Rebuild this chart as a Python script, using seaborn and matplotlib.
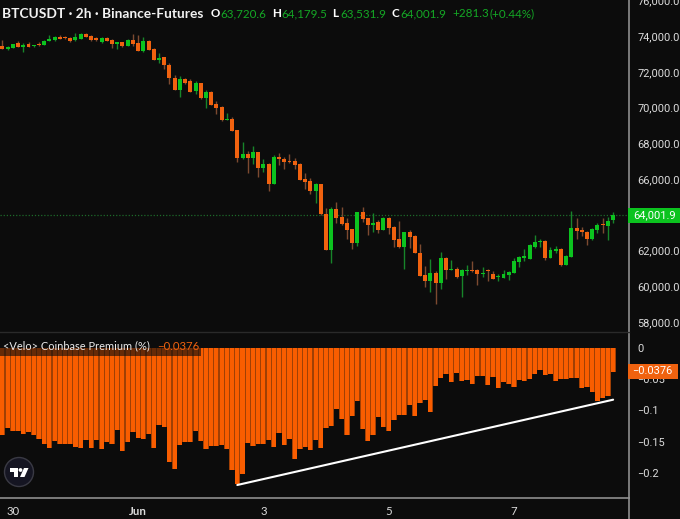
import numpy as np
import pandas as pd
import matplotlib
matplotlib.use("Agg")
import matplotlib.pyplot as plt
from matplotlib.patches import Circle, Rectangle, Polygon
import seaborn as sns

opens = [73440,73250,73330,73590,73380,73570,73420,73550,73480,73740,73800,73960,73940,73910,73760,73850,74110,74000,73870,73680,
         73910,73780,73550,73650,73460,73800,73630,73180,73700,73270,72640,72810,72400,71670,70980,71580,71500,70900,71350,70530,
         70890,70180,70030,69300,69360,68740,67180,67400,67190,67490,66630,66840,65740,67230,67140,66990,67010,66840,65980,65910,
         65330,65720,64060,62030,64320,63890,63540,63180,62400,64150,63800,63430,63580,63170,63820,63310,62620,62200,63040,62810,
         61880,60630,60290,60720,60180,61580,60910,60970,60570,60850,60890,60910,60700,60910,60690,60540,60480,60630,60760,61360,
         61580,61540,62220,62460,62550,61580,61950,62080,61210,61660,63260,63150,63050,62630,63170,63460,63390,63720.6]
closes = [73290,73400,73550,73400,73520,73400,73520,73500,73740,73850,73930,73850,73870,73740,73960,74090,73960,73760,73760,73890,
          73740,73530,73650,73440,73800,73530,73180,73700,73220,72660,72790,72380,71630,71000,71590,71390,70890,71350,70510,70870,
          70140,69970,69280,69340,68700,67190,67400,67180,67510,66630,66820,65740,67250,67100,66930,66930,66780,65940,65850,65350,
          65720,64020,62030,64300,63840,63460,63150,62420,64150,63740,63410,63560,63170,63800,63260,62590,62180,63020,62740,61860,
          60590,60310,60720,60180,61580,60910,60950,60540,60910,60930,60830,60690,60760,60850,60420,60570,60690,60800,61390,61620,
          61690,62310,62480,62550,61560,62010,62070,61190,61710,63260,63110,63040,62630,63200,63410,63430,63670,64001.9]
highs = [73780,73440,73550,73700,73590,73650,73520,73650,73780,74040,74000,74070,74000,73930,74190,74150,74170,74040,73960,73930,
         73960,73810,73660,73680,73830,74110,74040,73960,73780,73310,73030,72840,72510,71820,71760,71630,71590,71480,71350,70980,
         70940,70380,70080,69670,69450,68740,68090,67570,67850,67530,67140,66880,67340,67470,67250,67380,67160,66880,66320,66070,
         65760,65720,64360,64450,64700,64420,63800,63180,64170,64430,63840,64120,63710,63860,63890,63370,63650,63050,63150,62870,
         62360,61150,61510,60850,61920,61660,61470,61060,60970,61170,61430,60950,61100,60950,60870,60690,60910,60850,61560,61690,
         62070,62350,62870,62660,62590,62220,62250,62160,61750,64190,63800,63330,63110,63240,63520,63800,63890,64179.5]
lows = [73270,73240,73330,73370,73110,73380,73400,73460,73480,73700,73740,73810,73810,73650,73740,73810,73940,73740,73720,73630,
        73700,73350,73290,73380,73440,73440,73160,73120,73200,72640,72470,72150,71310,70960,70610,71310,70850,70760,70490,69990,
        70120,69640,69240,69300,68690,66970,67140,66320,66840,66090,66390,65310,65720,66780,66560,66910,66540,65930,65460,65160,
        64640,63990,62010,61320,63560,63430,62620,62080,62270,63610,62870,63040,62960,63130,62920,62210,62160,60970,62140,61840,
        60570,59940,59680,59010,59860,60390,60890,60480,59420,60630,60820,60090,60540,60310,60390,60310,60440,60350,60720,61100,
        61430,61510,62160,62220,61470,61560,61880,61130,61170,61640,62630,62810,62330,62610,62960,62960,62590,63531.9]
premium = [-0.1392,-0.1285,-0.1333,-0.1323,-0.1376,-0.1349,-0.1387,-0.1451,-0.1541,-0.1605,-0.1483,-0.1531,-0.1531,-0.1541,-0.1579,-0.1605,-0.1472,-0.1605,-0.1472,-0.1616,
           -0.1499,-0.1531,-0.1317,-0.1653,-0.1499,-0.1349,-0.1435,-0.1456,-0.1371,-0.1595,-0.1232,-0.1259,-0.1819,-0.1936,-0.1552,-0.1499,-0.1499,-0.1328,-0.1483,-0.1616,
           -0.1573,-0.1563,-0.1547,-0.1616,-0.1947,-0.2171,-0.2011,-0.1520,-0.1573,-0.1541,-0.1531,-0.1467,-0.1584,-0.1360,-0.1552,-0.1456,-0.1781,-0.1616,-0.1584,-0.1627,
           -0.1472,-0.1605,-0.1285,-0.1253,-0.0971,-0.1136,-0.1392,-0.1093,-0.0848,-0.1296,-0.1493,-0.1392,-0.1109,-0.1259,-0.1328,-0.1147,-0.1072,-0.1072,-0.0917,-0.1083,
           -0.0880,-0.0837,-0.1024,-0.0603,-0.0480,-0.0411,-0.0544,-0.0400,-0.0533,-0.0507,-0.0576,-0.0453,-0.0443,-0.0597,-0.0464,-0.0635,-0.0544,-0.0571,-0.0624,-0.0507,
           -0.0533,-0.0491,-0.0416,-0.0357,-0.0432,-0.0411,-0.0523,-0.0501,-0.0491,-0.0475,-0.0475,-0.0645,-0.0624,-0.0699,-0.0848,-0.0795,-0.0768,-0.0376]
day_positions = [2, 26, 50, 74, 98]
day_labels = ["30", "Jun", "3", "5", "7"]
price_ticks = [58000, 60000, 62000, 66000, 68000, 70000, 72000, 74000, 76000]
premium_ticks = [0, -0.05, -0.1, -0.15, -0.2]
premium_tick_labels = ["0", "\u22120.05", "\u22120.1", "\u22120.15", "\u22120.2"]
trend_x = [45, 117]
trend_y = [-0.2192, -0.0827]
last_close = closes[-1]
last_premium = premium[-1]

BG = "#0c0c0c"; GREEN = "#0cc31f"; ORANGE = "#f0620f"; BAR = "#f95d00"; BARDK = "#a04005"
WG = "#17852a"; WO = "#7d4a30"; TXT = "#dcdcdc"; LINE = "#8e8e8e"; VAL = "#14a825"

sns.set_theme(style="dark")
plt.rcParams["font.family"] = ["Lato", "DejaVu Sans"]
TICK_FONT = ["Roboto", "DejaVu Sans"]
W, H = 680, 519
fig = plt.figure(figsize=(W/100, H/100), dpi=100, facecolor=BG)
def box(x0, y0, x1, y1):
    return [x0/W, 1-y1/H, (x1-x0)/W, (y1-y0)/H]
ax = fig.add_axes(box(0, 0, 629, 331), facecolor=BG)
ax2 = fig.add_axes(box(0, 332, 629, 498), facecolor=BG, sharex=ax)

idx = np.arange(len(closes))
df = pd.DataFrame({"i": idx, "o": opens, "c": closes, "h": highs, "l": lows})
df["lo"] = df[["o", "c"]].min(axis=1)
df["hgt"] = (df["o"] - df["c"]).abs().clip(lower=35)
df["up"] = df["c"] >= df["o"]

for up, col, wick in [(True, GREEN, WG), (False, ORANGE, WO)]:
    sub = df[df["up"] == up]
    ax.vlines(sub["i"], sub["l"], sub["h"], color=wick, lw=1.0, zorder=2)
    sns.barplot(x=sub["i"].to_numpy(), y=sub["hgt"].to_numpy(), bottom=sub["lo"].to_numpy(),
                native_scale=True, width=0.76, color=col, saturation=1, errorbar=None,
                linewidth=0, ax=ax, zorder=3)
ax.axhline(last_close, color="#1d6b2a", lw=0.9, ls=(0, (1, 1.5)), zorder=1)
ax.set_ylim(57498, 76014)
ax.set_yticks(price_ticks)
ax.set_yticklabels([f"{t:,.1f}" for t in price_ticks])

sns.barplot(x=idx, y=premium, native_scale=True, width=1.0, color=BARDK, saturation=1,
            errorbar=None, linewidth=0, ax=ax2, zorder=2)
sns.barplot(x=idx, y=premium, native_scale=True, width=0.78, color=BAR, saturation=1,
            errorbar=None, linewidth=0, ax=ax2, zorder=3)
sns.lineplot(x=trend_x, y=trend_y, color="white", lw=1.5, ax=ax2, zorder=4)
ax2.set_ylim(-0.24, 0.0256)
ax2.set_yticks(premium_ticks)
ax2.set_yticklabels(premium_tick_labels)
ax2.set_xlim(-0.46, 120.04)
ax2.set_xticks(day_positions)
ax2.set_xticklabels(day_labels)

for a in (ax, ax2):
    a.grid(False)
    a.set_xlabel(""); a.set_ylabel("")
    a.yaxis.tick_right()
    a.tick_params(axis="y", length=0, pad=6, labelsize=7.9, labelcolor=TXT)
    for lab in a.get_yticklabels():
        lab.set_fontfamily(TICK_FONT)
    a.spines[["top", "left", "bottom"]].set_visible(False)
    a.spines["right"].set_color(LINE); a.spines["right"].set_linewidth(1.2)
ax.tick_params(axis="x", length=0, labelbottom=False)
ax2.tick_params(axis="x", length=0, pad=6, labelsize=8.2, labelcolor=TXT)
for lab in ax2.get_xticklabels():
    if lab.get_text() == "Jun":
        lab.set_fontweight("bold")
ax2.spines["bottom"].set_visible(True)
ax2.spines["bottom"].set_color(LINE); ax2.spines["bottom"].set_linewidth(1.2)
ax2.spines["top"].set_visible(True)
ax2.spines["top"].set_color("#2a2a2a"); ax2.spines["top"].set_linewidth(1)

ov = fig.add_axes([0, 0, 1, 1], facecolor="none", zorder=10)
ov.set_xlim(0, W); ov.set_ylim(H, 0); ov.axis("off")
ov.add_line(plt.Line2D([629, 629], [498, 519], color=LINE, lw=1.2))
ov.add_patch(Rectangle((0, 337), 201, 19, fc="#0c0c0c", alpha=0.62, ec="none"))
ov.text(2, 14, "BTCUSDT \u00b7 2h \u00b7 Binance-Futures", color="#f2f2f2", fontsize=9.9, va="center", fontweight="bold")
for x, s, c in [(210.5, "O", "white"), (220.5, "63,720.6", VAL), (272, "H", "white"), (281, "64,179.5", VAL),
                (332, "L", "white"), (340, "63,531.9", VAL), (391, "C", "white"), (400, "64,001.9", VAL),
                (452, "+281.3", VAL), (490, "(+0.44%)", VAL)]:
    ov.text(x, 13.5, s, color=c, fontsize=8.4, va="center", fontweight="bold" if c == "white" else "normal")
ov.text(3, 346, "<Velo> Coinbase Premium (%)", color="#ececec", fontsize=7.9, va="center")
ov.text(157, 346, "\u22120.0376", color=ORANGE, fontsize=8.2, va="center")
ov.add_patch(Rectangle((628, 208), 52, 15, fc="#0cc31f", ec="none"))
ov.text(655, 215.5, "64,001.9", color="white", fontsize=8.0, ha="center", va="center", family=TICK_FONT)
ov.add_patch(Rectangle((628, 364), 49.5, 15, fc=ORANGE, ec="none"))
ov.text(652.5, 371.5, "\u22120.0376", color="white", fontsize=7.9, ha="center", va="center", family=TICK_FONT)
ov.add_patch(Circle((19, 472), 14.5, fc="#151522", ec="#3a3a44", lw=1))
ov.add_patch(Polygon([(10, 468), (17.5, 468), (17.5, 477), (14, 477), (14, 471.5), (10, 471.5)], fc="white", ec="none"))
ov.add_patch(Circle((20.5, 470), 1.9, fc="white", ec="none"))
ov.add_patch(Polygon([(24, 468), (28.5, 468), (24.5, 477), (20, 477)], fc="white", ec="none"))

fig.savefig("out.png", dpi=100, facecolor=BG)
